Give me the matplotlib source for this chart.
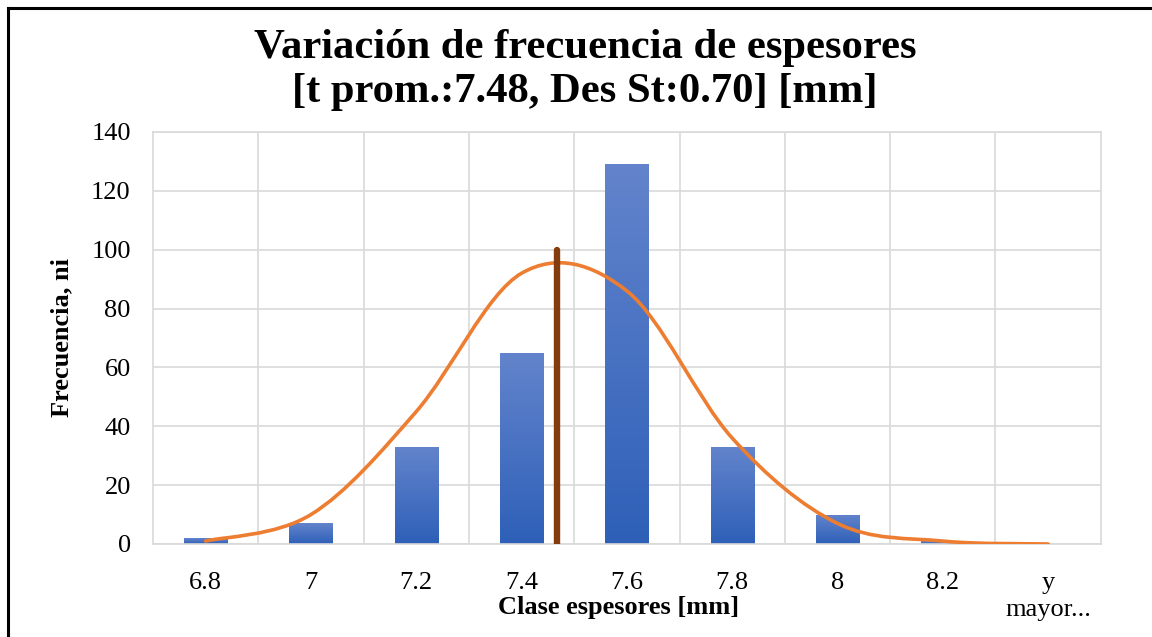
import numpy as np
import matplotlib.pyplot as plt
from matplotlib.path import Path
from matplotlib.patches import PathPatch
from matplotlib.lines import Line2D
from matplotlib.colors import LinearSegmentedColormap

plt.rcParams['font.family'] = ['Liberation Serif', 'DejaVu Serif']

# histogram classes and counts
clases = ['6.8', '7', '7.2', '7.4', '7.6', '7.8', '8', '8.2', 'y\nmayor...']
frecuencia = [2, 7, 33, 65, 129, 33, 10, 1, 0]

# fitted curve, one value per class
curva = [1, 10, 45, 92, 86, 36, 7, 1, 0]

# mean line
t_prom = 7.48
des_st = 0.70
pos_media = 3.34
alto_media = 100

fig = plt.figure(figsize=(11.52, 6.37), dpi=100)
ax = fig.add_axes([0.1328, 0.146, 0.8227, 0.6468])

x = np.arange(len(clases))
ax.set_xlim(-0.5, len(clases) - 0.5)
ax.set_ylim(0, 140)

# bars with vertical gradient
barras = ax.bar(x, frecuencia, width=0.41, color='none', zorder=2)
grad = np.linspace(0, 1, 256).reshape(-1, 1)
cmap = LinearSegmentedColormap.from_list('azul', ['#2E60B8', '#6384CC'])
for b in barras:
    if b.get_height() <= 0:
        continue
    x0 = b.get_x()
    im = ax.imshow(grad, cmap=cmap, aspect='auto', origin='lower',
                   extent=[x0, x0 + b.get_width(), 0, b.get_height()], zorder=2)
    im.set_clip_path(b)

# smooth curve (cubic bezier through the class points)
pts = np.column_stack([x, curva]).astype(float)
verts = [tuple(pts[0])]
codes = [Path.MOVETO]
n = len(pts)
for i in range(n - 1):
    p0 = pts[max(i - 1, 0)]
    p1 = pts[i]
    p2 = pts[i + 1]
    p3 = pts[min(i + 2, n - 1)]
    c1 = p1 + (p2 - p0) / 6
    c2 = p2 - (p3 - p1) / 6
    verts += [tuple(c1), tuple(c2), tuple(p2)]
    codes += [Path.CURVE4] * 3
ax.add_patch(PathPatch(Path(verts, codes), facecolor='none', edgecolor='#ED7D31',
                       lw=2.6, capstyle='round', zorder=3))

ax.plot([pos_media, pos_media], [0, alto_media], color='#843C0C', lw=4.6,
        solid_capstyle='round', zorder=4)

# grid and frame
ax.set_yticks(np.arange(0, 141, 20))
ax.set_xticks(x)
ax.set_xticklabels(clases)
ax.set_xticks(x[:-1] + 0.5, minor=True)
ax.grid(True, axis='y', which='major', color='#D9D9D9', lw=1.2, zorder=0)
ax.grid(True, axis='x', which='minor', color='#D9D9D9', lw=1.2, zorder=0)
ax.grid(False, axis='x', which='major')
ax.set_axisbelow(True)
for s in ax.spines.values():
    s.set_color('#D9D9D9')
    s.set_linewidth(1.2)
ax.tick_params(axis='both', which='both', length=0, labelsize=19)
ax.tick_params(axis='y', pad=16)
ax.tick_params(axis='x', pad=20.5)
for lbl in ax.get_xticklabels():
    lbl.set_linespacing(1.25)
    lbl.set_verticalalignment('top')

ax.set_ylabel('Frecuencia, ni', fontsize=19, fontweight='bold')
ax.yaxis.set_label_coords(-0.096, 0.5)
ax.yaxis.label.set_va('center')
ax.set_xlabel('Clase espesores [mm]', fontsize=19, fontweight='bold')
ax.xaxis.set_label_coords(0.491, -0.153)
ax.xaxis.label.set_va('center')

fig.text(0.508, 0.89,
         'Variación de frecuencia de espesores\n[t prom.:%.2f, Des St:%.2f] [mm]' % (t_prom, des_st),
         ha='center', va='center', fontsize=30.7, fontweight='bold', linespacing=1.2)

# outer border (left and top)
W, H = 1152, 637
fig.add_artist(Line2D([8 / W, 8 / W], [0, 1 - 8 / H], color='black', lw=2.2,
                      transform=fig.transFigure))
fig.add_artist(Line2D([8 / W, 1], [1 - 8 / H, 1 - 8 / H], color='black', lw=2.2,
                      transform=fig.transFigure))

fig.savefig('out.png', dpi=100)
